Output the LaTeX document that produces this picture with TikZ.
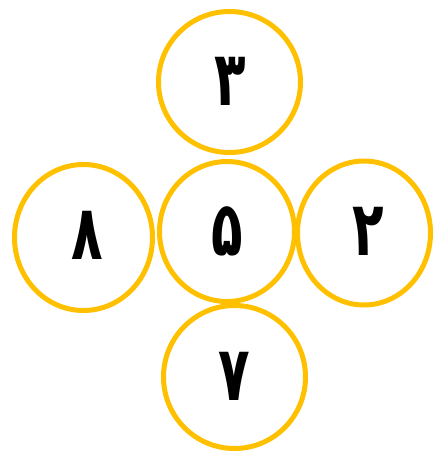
\documentclass[tikz,border=0pt]{standalone}
\usepackage{fontspec}
\usepackage{graphicx}
\TeXXeTstate=1
\newfontfamily\arabicfont[Script=Arabic]{DejaVu Sans}
\newcommand\fadigit[1]{\scalebox{0.68}[1]{\beginR #1\endR}}
\begin{document}
\begin{tikzpicture}[x=1pt,y=-1pt,
  ring/.style={draw={rgb,255:red,255;green,192;blue,0},line width=5pt},
  digit/.style={font=\arabicfont\bfseries\fontsize{76}{80}\selectfont,inner sep=0pt}]
\useasboundingbox (0,0) rectangle (434,452);
\draw[ring] (229.5,82) ellipse [x radius=71, y radius=70.5];
\draw[ring] (83.5,237.5) ellipse [x radius=69, y radius=73];
\draw[ring] (227,231.5) ellipse [x radius=67.5, y radius=70];
\draw[ring] (364,233) ellipse [x radius=66.5, y radius=72];
\draw[ring] (234.5,377) ellipse [x radius=71, y radius=71.5];
\node[digit] (n3) at (230,81) {\fadigit{۳}};
\node[digit] (n8) at (87.5,235) {\fadigit{۸}};
\node[digit] (n5) at (227,231) {\fadigit{۵}};
\node[digit] (n2) at (368,231) {\fadigit{۲}};
\node[digit] (n7) at (234.5,376) {\fadigit{۷}};
\end{tikzpicture}
\end{document}
